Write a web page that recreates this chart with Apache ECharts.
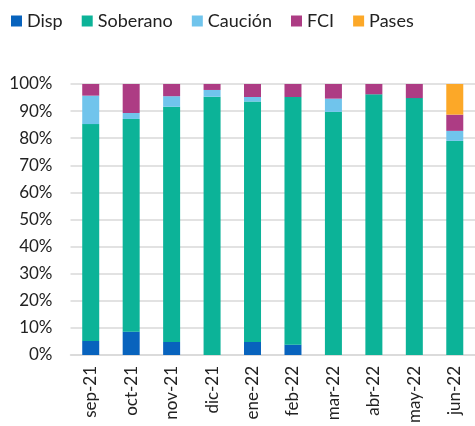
<!DOCTYPE html>
<html>
<head>
<meta charset="utf-8">
<script src="https://cdn.jsdelivr.net/npm/echarts@6/dist/echarts.min.js"></script>
<style>
  html, body { margin: 0; padding: 0; background: #fff; }
  #chart { width: 475px; height: 426px; }
</style>
</head>
<body>
<div id="chart"></div>
<script>
const months = ["sep-21", "oct-21", "nov-21", "dic-21", "ene-22", "feb-22", "mar-22", "abr-22", "may-22", "jun-22"];

// participación (%) por instrumento
const disp     = [5.2, 8.6, 4.8, 0, 4.8, 3.8, 0, 0, 0, 0];
const soberano = [80.0, 78.5, 86.8, 95.3, 88.7, 91.4, 89.7, 96.2, 94.8, 79.0];
const caucion  = [10.5, 2.2, 3.9, 2.5, 1.7, 0, 4.9, 0, 0, 3.7];
const fci      = [4.3, 10.7, 4.5, 2.2, 4.8, 4.8, 5.4, 3.8, 5.2, 6.0];
const pases    = [0, 0, 0, 0, 0, 0, 0, 0, 0, 11.3];

const seriesDefs = [
  { name: "Disp", data: disp, color: "#0863bd" },
  { name: "Soberano", data: soberano, color: "#0cb398" },
  { name: "Caución", data: caucion, color: "#70c4ec" },
  { name: "FCI", data: fci, color: "#ad3c84" },
  { name: "Pases", data: pases, color: "#fca828" },
];

const textColor = "#222";
const font = "Lato, 'Noto Sans', sans-serif";

const chart = echarts.init(document.getElementById("chart"));

chart.setOption({
  animation: false,
  textStyle: { fontFamily: font },
  legend: {
    left: 6,
    top: 7,
    itemWidth: 11,
    itemHeight: 11,
    itemGap: 19,
    icon: "rect",
    textStyle: { fontSize: 18, color: textColor, fontFamily: font },
    data: seriesDefs.map((s) => s.name),
  },
  grid: {
    left: 70.5,
    top: 84,
    width: 409,
    height: 271,
    containLabel: false,
  },
  xAxis: {
    type: "category",
    data: months,
    axisLine: { show: true, lineStyle: { color: "#d9d9d9", width: 1.5 } },
    axisTick: { show: false },
    axisLabel: {
      rotate: 90,
      margin: 11,
      fontSize: 17,
      color: textColor,
      fontFamily: font,
    },
  },
  yAxis: {
    type: "value",
    min: 0,
    max: 100,
    interval: 10,
    axisLine: { show: false },
    axisTick: { show: false },
    axisLabel: {
      formatter: "{value}%",
      margin: 18,
      fontSize: 17,
      color: textColor,
      fontFamily: font,
    },
    splitLine: { lineStyle: { color: "#d9d9d9", width: 1.5 } },
  },
  series: seriesDefs.map((s) => ({
    name: s.name,
    type: "bar",
    stack: "total",
    barWidth: 17,
    data: s.data,
    itemStyle: { color: s.color },
  })),
});
</script>
</body>
</html>
